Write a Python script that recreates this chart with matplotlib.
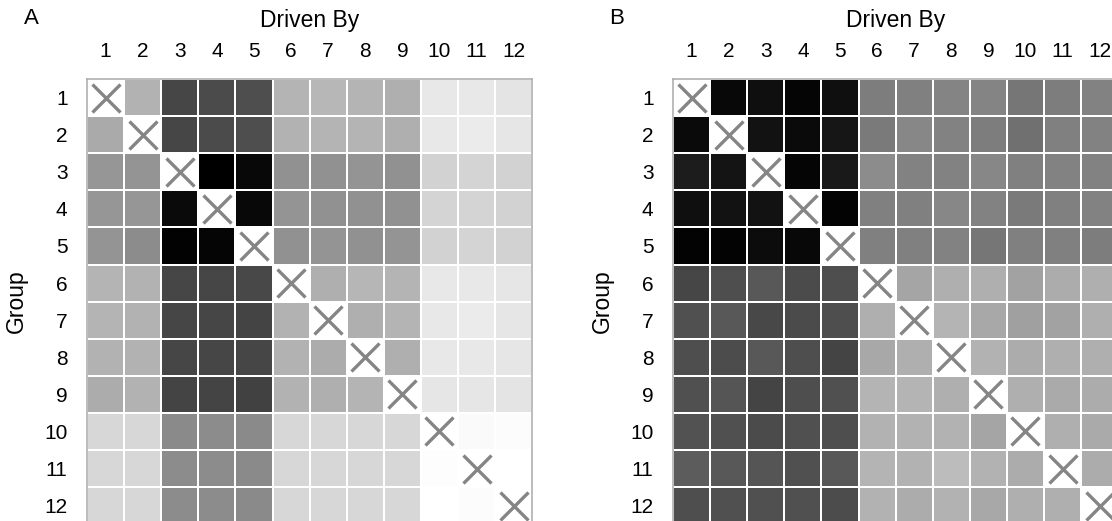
import numpy as np
import matplotlib
matplotlib.use("Agg")
import matplotlib.pyplot as plt

plt.rcParams['font.family'] = ['Liberation Sans', 'DejaVu Sans']

# --- Data: influence strength (0 = none, 255 = strongest), diagonal = self ---
groups = [str(i) for i in range(1, 13)]
nan = np.nan

strength_a = [
    [nan, 77, 185, 180, 177, 75, 72, 75, 80, 23, 23, 27],
    [85, nan, 185, 180, 177, 77, 75, 75, 80, 23, 20, 25],
    [105, 107, nan, 255, 247, 110, 110, 107, 110, 45, 43, 45],
    [105, 105, 245, nan, 247, 107, 110, 110, 110, 43, 43, 45],
    [107, 115, 253, 250, nan, 110, 107, 110, 107, 45, 43, 45],
    [75, 77, 185, 185, 183, nan, 80, 73, 75, 23, 23, 25],
    [75, 77, 185, 185, 187, 77, nan, 80, 75, 23, 20, 25],
    [77, 77, 185, 185, 185, 77, 83, nan, 80, 23, 23, 25],
    [83, 77, 187, 187, 190, 77, 80, 75, nan, 25, 25, 27],
    [40, 40, 117, 115, 117, 40, 40, 40, 40, nan, 5, 3],
    [40, 40, 115, 115, 117, 40, 40, 40, 40, 2, nan, 0],
    [40, 40, 115, 115, 117, 40, 40, 40, 40, 0, 3, nan],
]

strength_b = [
    [nan, 247, 240, 250, 240, 130, 127, 123, 123, 137, 130, 125],
    [245, nan, 237, 245, 233, 133, 120, 125, 130, 143, 127, 125],
    [227, 235, nan, 250, 230, 115, 125, 125, 120, 127, 125, 125],
    [240, 237, 237, nan, 252, 127, 127, 120, 125, 133, 127, 125],
    [252, 252, 243, 247, nan, 127, 127, 125, 137, 127, 127, 130],
    [185, 177, 167, 180, 177, nan, 90, 80, 80, 93, 83, 80],
    [175, 167, 183, 180, 177, 80, nan, 75, 87, 95, 93, 80],
    [177, 179, 167, 177, 187, 87, 80, nan, 77, 83, 80, 80],
    [175, 170, 187, 177, 175, 75, 75, 80, nan, 80, 85, 83],
    [173, 175, 180, 175, 177, 77, 77, 77, 90, nan, 80, 85],
    [163, 167, 170, 175, 167, 75, 77, 67, 77, 83, nan, 83],
    [177, 175, 175, 175, 179, 77, 83, 77, 87, 80, 80, nan],
]

panels = [("A", strength_a), ("B", strength_b)]

fig = plt.figure(figsize=(11.12, 5.21), dpi=100)

W, H = 1112, 521
cell = 37.1
size = cell * 12
lefts = [87, 673]
top = 79

for (tag, data), left in zip(panels, lefts):
    ax = fig.add_axes([left / W, (H - top - size) / H, size / W, size / H])
    m = np.ma.masked_invalid(np.array(data, dtype=float))
    ax.set_facecolor("white")
    ax.pcolormesh(np.arange(13) + 0.5, np.arange(13) + 0.5, m, cmap="gray_r",
                  vmin=0, vmax=255, edgecolors="white", linewidth=1.1)
    idx = np.arange(1, 13)
    ax.plot(idx, idx, linestyle="none", marker="x", markersize=20.5,
            markeredgewidth=2.4, color="#858585")
    ax.set_xlim(0.5, 12.5)
    ax.set_ylim(12.5, 0.5)
    ax.set_xticks(idx)
    ax.set_xticklabels(groups)
    ax.set_yticks(idx)
    ax.set_yticklabels(groups)
    ax.xaxis.tick_top()
    ax.xaxis.set_label_position("top")
    ax.tick_params(length=0, labelsize=15)
    ax.tick_params(axis="x", pad=13)
    ax.tick_params(axis="y", pad=14)
    ax.set_xlabel("Driven By", fontsize=16.5, labelpad=11)
    ax.set_ylabel("Group", fontsize=16.5, labelpad=12)
    for s in ax.spines.values():
        s.set_color("#aaaaaa")
        s.set_linewidth(1.1)
    fig.text((left - 56) / W, 1 - 18 / H, tag, fontsize=16, ha="center", va="center")

fig.savefig("out.png", dpi=100)
